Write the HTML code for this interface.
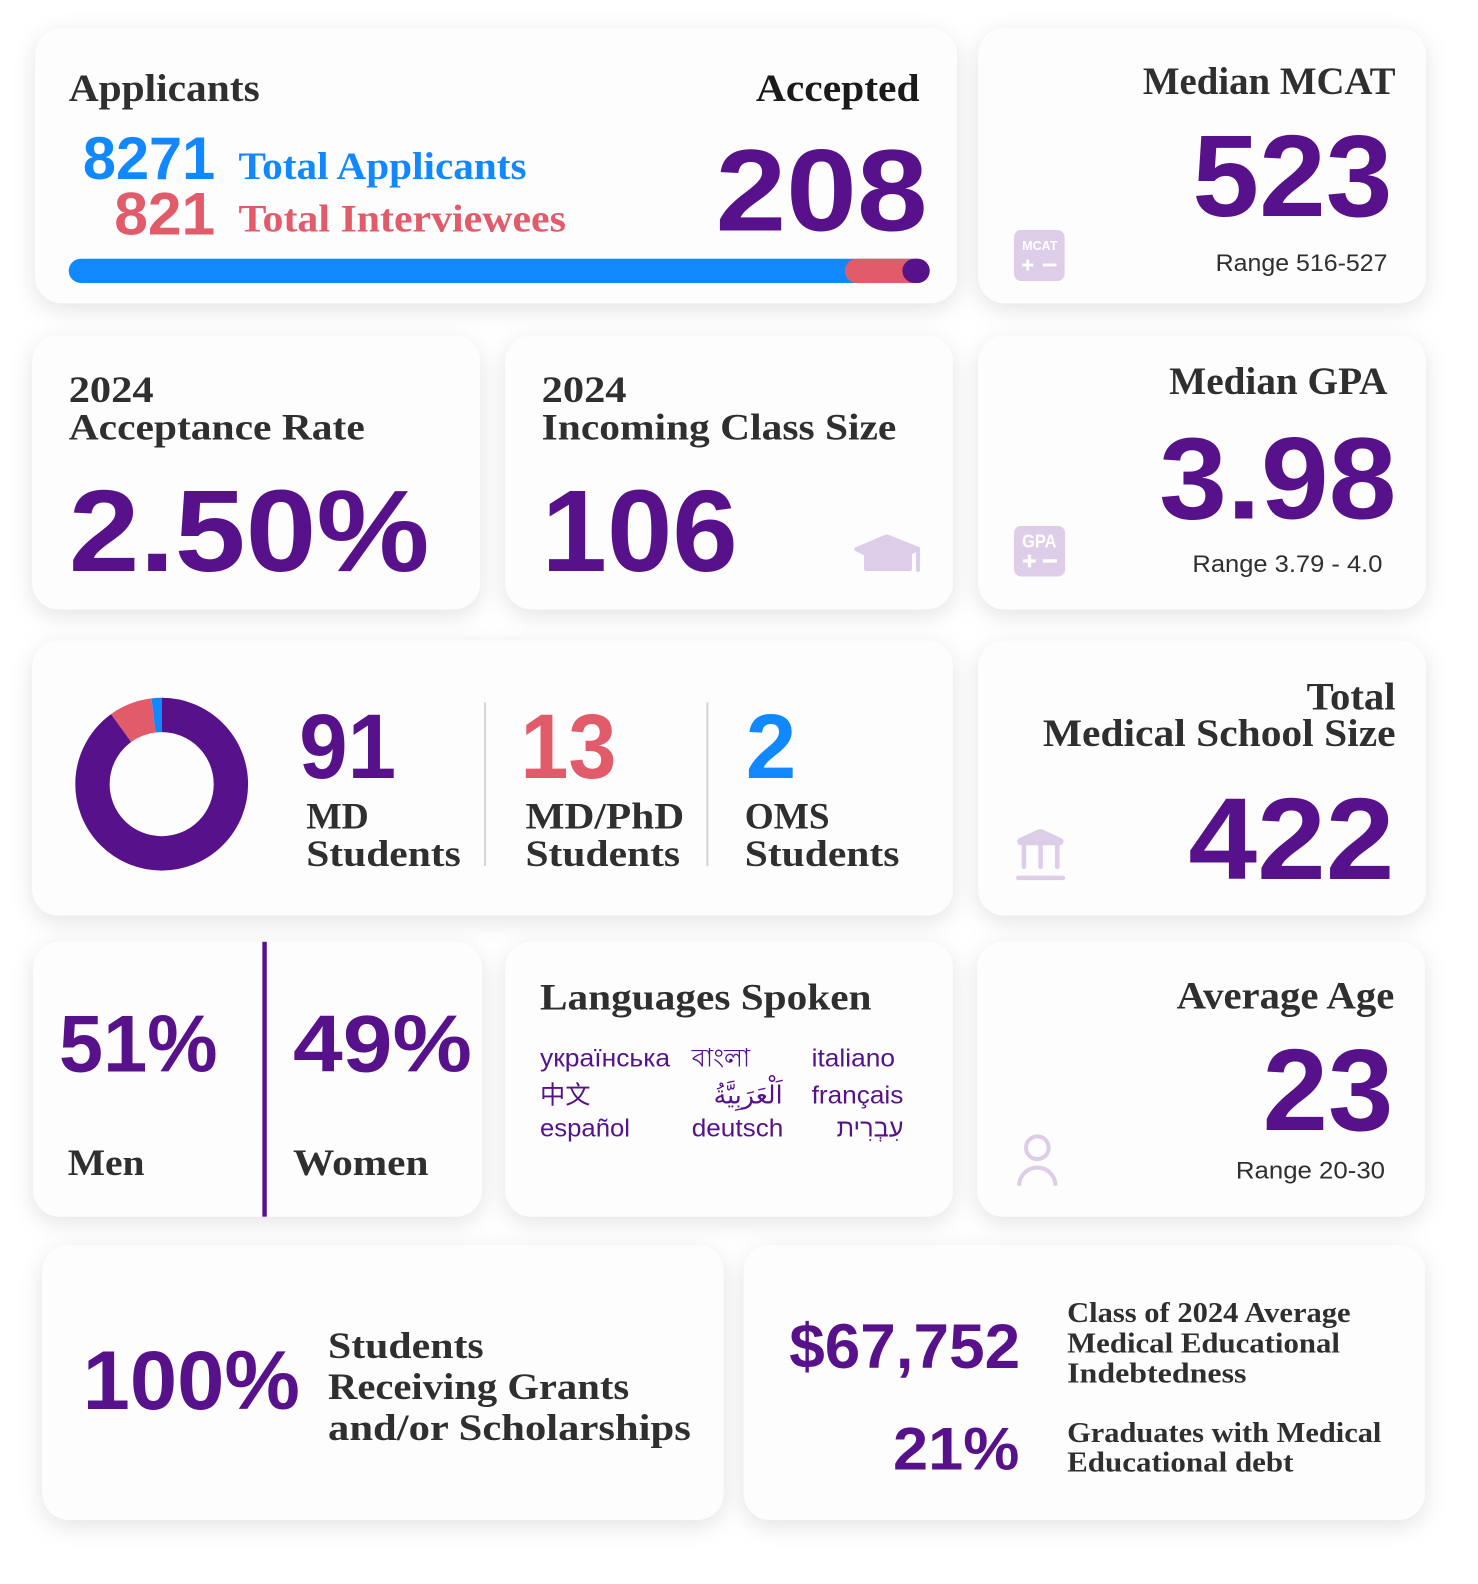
<!DOCTYPE html>
<html>
<head>
<meta charset="utf-8">
<style>
html,body{margin:0;padding:0;background:#ffffff;}
svg{display:block;}
.h{font-family:"Liberation Serif",serif;font-weight:700;fill:#2f2f2f;}
.n{font-family:"Liberation Sans",sans-serif;font-weight:700;}
.r{font-family:"Liberation Sans",sans-serif;font-weight:400;fill:#2f2f2f;font-size:24px;}
.lang{font-family:"Liberation Sans","DejaVu Sans","Noto Sans CJK SC",sans-serif;font-size:25px;fill:#57128b;}
.p{fill:#57128b;}
.b{fill:#1188fe;}
.rd{fill:#e15b6b;}
.ic{fill:#ddcde8;}
</style>
</head>
<body>
<svg width="1478" height="1584" viewBox="0 0 1462.6 1567.5" preserveAspectRatio="none" xmlns="http://www.w3.org/2000/svg">
  <defs>
    <filter id="sh" x="-15%" y="-20%" width="130%" height="150%">
      <feDropShadow dx="0" dy="6" stdDeviation="11" flood-color="#000" flood-opacity="0.11"/>
    </filter>
  </defs>
  <rect x="0" y="0" width="1462.6" height="1567.5" fill="#ffffff"/>

  <!-- cards -->
  <g fill="#fdfdfd" filter="url(#sh)">
    <rect x="35" y="28" width="912" height="272" rx="26"/>
    <rect x="968" y="28" width="443" height="272" rx="26"/>
    <rect x="32" y="332" width="443" height="271" rx="26"/>
    <rect x="500" y="332" width="443" height="271" rx="26"/>
    <rect x="968" y="332" width="443" height="271" rx="26"/>
    <rect x="32" y="634" width="911" height="272" rx="26"/>
    <rect x="968" y="634" width="443" height="272" rx="26"/>
    <rect x="33" y="932" width="444" height="272" rx="26"/>
    <rect x="500" y="932" width="443" height="272" rx="26"/>
    <rect x="967" y="932" width="443" height="272" rx="26"/>
    <rect x="42" y="1232" width="674" height="272" rx="26"/>
    <rect x="736" y="1232" width="674" height="272" rx="26"/>
  </g>

  <!-- Card A: Applicants -->
  <text x="68" y="100" class="h" font-size="39" textLength="189" lengthAdjust="spacingAndGlyphs">Applicants</text>
  <text x="748" y="100" class="h" font-size="39" textLength="162" lengthAdjust="spacingAndGlyphs" style="fill:#1a1a1a">Accepted</text>
  <text x="82" y="177" class="n b" font-size="60" textLength="131" lengthAdjust="spacingAndGlyphs">8271</text>
  <text x="236" y="177" class="h b" font-size="39" textLength="285" lengthAdjust="spacingAndGlyphs" style="fill:#1188fe">Total Applicants</text>
  <text x="113" y="232" class="n rd" font-size="60" textLength="100" lengthAdjust="spacingAndGlyphs">821</text>
  <text x="236" y="229" class="h" font-size="39" textLength="324" lengthAdjust="spacingAndGlyphs" style="fill:#e15b6b">Total Interviewees</text>
  <text x="708" y="228" class="n p" font-size="115" textLength="210" lengthAdjust="spacingAndGlyphs">208</text>
  <rect x="68" y="256" width="852" height="24" rx="12" fill="#1188fe"/>
  <rect x="836" y="256" width="84" height="24" rx="12" fill="#e15b6b"/>
  <rect x="893" y="256" width="27" height="24" rx="12" fill="#57128b"/>

  <!-- Card B: MCAT -->
  <text x="1131" y="93" class="h" font-size="39" textLength="250" lengthAdjust="spacingAndGlyphs">Median MCAT</text>
  <text x="1180" y="214" class="n p" font-size="115" textLength="198" lengthAdjust="spacingAndGlyphs">523</text>
  <text x="1203" y="268" class="r" textLength="170" lengthAdjust="spacingAndGlyphs">Range 516-527</text>
  <rect x="1003.5" y="227.6" width="50" height="50.5" rx="7" class="ic"/>
  <text x="1011.5" y="247.4" class="n" font-size="13" fill="#fff" textLength="35" lengthAdjust="spacingAndGlyphs">MCAT</text>
  <rect x="1011.5" y="260.8" width="11" height="2.8" fill="#fff"/>
  <rect x="1015.6" y="256.7" width="2.8" height="11" fill="#fff"/>
  <rect x="1032" y="260.8" width="13.5" height="2.8" fill="#fff"/>

  <!-- Card C: Acceptance Rate -->
  <text x="68" y="398" class="h" font-size="37" textLength="84" lengthAdjust="spacingAndGlyphs">2024</text>
  <text x="68" y="435" class="h" font-size="37" textLength="293" lengthAdjust="spacingAndGlyphs">Acceptance Rate</text>
  <text x="68" y="565" class="n p" font-size="115" textLength="357" lengthAdjust="spacingAndGlyphs">2.50%</text>

  <!-- Card D: Incoming Class -->
  <text x="536" y="398" class="h" font-size="37" textLength="84" lengthAdjust="spacingAndGlyphs">2024</text>
  <text x="536" y="435" class="h" font-size="37" textLength="351" lengthAdjust="spacingAndGlyphs">Incoming Class Size</text>
  <text x="536" y="565" class="n p" font-size="115" textLength="194" lengthAdjust="spacingAndGlyphs">106</text>
  <path class="ic" d="M846,545 Q844,543 847,541.5 L875,529.5 Q877.5,528.5 880,529.5 L909,541 Q911,542.5 909,544.5 L902.5,548.5 L902.5,563 Q902.5,565 900.5,565 L857,565 Q855,565 855,563 L855,549.5 Z"/>
  <rect x="906.5" y="541" width="4" height="25" rx="2" class="ic"/>

  <!-- Card E: GPA -->
  <text x="1157" y="390" class="h" font-size="39" textLength="216" lengthAdjust="spacingAndGlyphs">Median GPA</text>
  <text x="1147" y="513" class="n p" font-size="115" textLength="235" lengthAdjust="spacingAndGlyphs">3.98</text>
  <text x="1180" y="566" class="r" textLength="188" lengthAdjust="spacingAndGlyphs">Range 3.79 - 4.0</text>
  <rect x="1003.5" y="520.5" width="50.5" height="50" rx="7" class="ic"/>
  <text x="1011.5" y="541.6" class="n" font-size="18" fill="#fff" textLength="34" lengthAdjust="spacingAndGlyphs">GPA</text>
  <rect x="1012.5" y="553.5" width="12.5" height="3.3" fill="#fff"/>
  <rect x="1017.1" y="548.9" width="3.3" height="12.5" fill="#fff"/>
  <rect x="1032" y="553.5" width="14" height="3.3" fill="#fff"/>

  <!-- Card F: donut + counts -->
  <g transform="rotate(-90 160 776)" fill="none" stroke-width="34">
    <circle cx="160" cy="776" r="68.5" stroke="#57128b" stroke-dasharray="387.4 430.4"/>
    <circle cx="160" cy="776" r="68.5" stroke="#e15b6b" stroke-dasharray="34.7 395.7" stroke-dashoffset="-387.4"/>
    <circle cx="160" cy="776" r="68.5" stroke="#1188fe" stroke-dasharray="8.4 422" stroke-dashoffset="-422.1"/>
  </g>
  <text x="296" y="770" class="n p" font-size="91" textLength="96" lengthAdjust="spacingAndGlyphs">91</text>
  <text x="303" y="820" class="h" font-size="37" textLength="62" lengthAdjust="spacingAndGlyphs">MD</text>
  <text x="303" y="857" class="h" font-size="37" textLength="153" lengthAdjust="spacingAndGlyphs">Students</text>
  <rect x="479" y="695" width="2" height="162" fill="#d4d4d4"/>
  <text x="515" y="770" class="n rd" font-size="91" textLength="95" lengthAdjust="spacingAndGlyphs">13</text>
  <text x="520" y="820" class="h" font-size="37" textLength="157" lengthAdjust="spacingAndGlyphs">MD/PhD</text>
  <text x="520" y="857" class="h" font-size="37" textLength="153" lengthAdjust="spacingAndGlyphs">Students</text>
  <rect x="699" y="695" width="2" height="162" fill="#d4d4d4"/>
  <text x="738" y="770" class="n b" font-size="91" textLength="50" lengthAdjust="spacingAndGlyphs">2</text>
  <text x="737" y="820" class="h" font-size="37" textLength="84" lengthAdjust="spacingAndGlyphs">OMS</text>
  <text x="737" y="857" class="h" font-size="37" textLength="153" lengthAdjust="spacingAndGlyphs">Students</text>

  <!-- Card G: Total size -->
  <text x="1293" y="702" class="h" font-size="39" textLength="88" lengthAdjust="spacingAndGlyphs">Total</text>
  <text x="1032" y="738" class="h" font-size="39" textLength="349" lengthAdjust="spacingAndGlyphs">Medical School Size</text>
  <text x="1176" y="870" class="n p" font-size="115" textLength="204" lengthAdjust="spacingAndGlyphs">422</text>
  <path class="ic" d="M1007,834 Q1005.5,831 1008.5,829.5 L1027,821 Q1029.5,820 1032,821 L1050.5,829.5 Q1053.5,831 1052,834 Q1051,836.5 1048,836.5 L1010,836.5 Q1007.5,836.5 1007,834 Z"/>
  <rect x="1011" y="835" width="4.5" height="25" rx="2.2" class="ic"/>
  <rect x="1027.5" y="835" width="4.5" height="25" rx="2.2" class="ic"/>
  <rect x="1044" y="835" width="4.5" height="25" rx="2.2" class="ic"/>
  <rect x="1005.5" y="866.5" width="48.5" height="4.5" rx="2.2" class="ic"/>

  <!-- Card H: Men / Women -->
  <text x="58.4" y="1060.5" class="n p" font-size="80" textLength="157" lengthAdjust="spacingAndGlyphs">51%</text>
  <text x="290" y="1060.5" class="n p" font-size="80" textLength="177" lengthAdjust="spacingAndGlyphs">49%</text>
  <rect x="259.6" y="932" width="4.4" height="272" fill="#57128b"/>
  <text x="67" y="1163" class="h" font-size="37" textLength="76" lengthAdjust="spacingAndGlyphs">Men</text>
  <text x="290" y="1163" class="h" font-size="37" textLength="134" lengthAdjust="spacingAndGlyphs">Women</text>

  <!-- Card I: Languages -->
  <text x="534.4" y="999" class="h" font-size="37" textLength="328" lengthAdjust="spacingAndGlyphs">Languages Spoken</text>
  <text x="534.4" y="1055.6" class="lang" textLength="128.7" lengthAdjust="spacingAndGlyphs">українська</text>
  <text x="684.5" y="1055.6" class="lang">বাংলা</text>
  <text x="803.2" y="1055.6" class="lang" textLength="82.5" lengthAdjust="spacingAndGlyphs">italiano</text>
  <text x="534.4" y="1091.8" class="lang">中文</text>
  <text x="774.5" y="1091.8" class="lang" text-anchor="end">اَلْعَرَبِيَّةُ</text>
  <text x="803.2" y="1091.8" class="lang" textLength="90.7" lengthAdjust="spacingAndGlyphs">français</text>
  <text x="534.4" y="1124.9" class="lang" textLength="89" lengthAdjust="spacingAndGlyphs">español</text>
  <text x="684.5" y="1124.9" class="lang" textLength="90.7" lengthAdjust="spacingAndGlyphs">deutsch</text>
  <text x="894" y="1124.9" class="lang" text-anchor="end">עִבְרִית</text>

  <!-- Card J: Average Age -->
  <text x="1164.4" y="998" class="h" font-size="39" textLength="215.4" lengthAdjust="spacingAndGlyphs">Average Age</text>
  <text x="1249.5" y="1118.3" class="n p" font-size="115" textLength="129.3" lengthAdjust="spacingAndGlyphs">23</text>
  <text x="1223" y="1166" class="r" textLength="147.6" lengthAdjust="spacingAndGlyphs">Range 20-30</text>
  <circle cx="1026.5" cy="1135.8" r="11.2" fill="none" stroke="#ddcde8" stroke-width="4"/>
  <path d="M1008.5,1173.4 A18,18 0 0 1 1044.5,1173.4" fill="none" stroke="#ddcde8" stroke-width="4"/>

  <!-- Card K: Grants -->
  <text x="81.8" y="1394.5" class="n p" font-size="83" textLength="215" lengthAdjust="spacingAndGlyphs">100%</text>
  <text x="324.6" y="1344" class="h" font-size="37" textLength="154" lengthAdjust="spacingAndGlyphs">Students</text>
  <text x="324.6" y="1384.5" class="h" font-size="37" textLength="298" lengthAdjust="spacingAndGlyphs">Receiving Grants</text>
  <text x="324.6" y="1425" class="h" font-size="37" textLength="359" lengthAdjust="spacingAndGlyphs">and/or Scholarships</text>

  <!-- Card L: Debt -->
  <text x="781" y="1354" class="n p" font-size="62" textLength="228.5" lengthAdjust="spacingAndGlyphs">$67,752</text>
  <text x="883.7" y="1454" class="n p" font-size="60" textLength="125" lengthAdjust="spacingAndGlyphs">21%</text>
  <text x="1056" y="1308" class="h" font-size="28" textLength="280.5" lengthAdjust="spacingAndGlyphs">Class of 2024 Average</text>
  <text x="1056" y="1338.3" class="h" font-size="28" textLength="270" lengthAdjust="spacingAndGlyphs">Medical Educational</text>
  <text x="1056" y="1368" class="h" font-size="28" textLength="177.5" lengthAdjust="spacingAndGlyphs">Indebtedness</text>
  <text x="1056" y="1427" class="h" font-size="28" textLength="311" lengthAdjust="spacingAndGlyphs">Graduates with Medical</text>
  <text x="1056" y="1456.4" class="h" font-size="28" textLength="224" lengthAdjust="spacingAndGlyphs">Educational debt</text>
</svg>
</body>
</html>
